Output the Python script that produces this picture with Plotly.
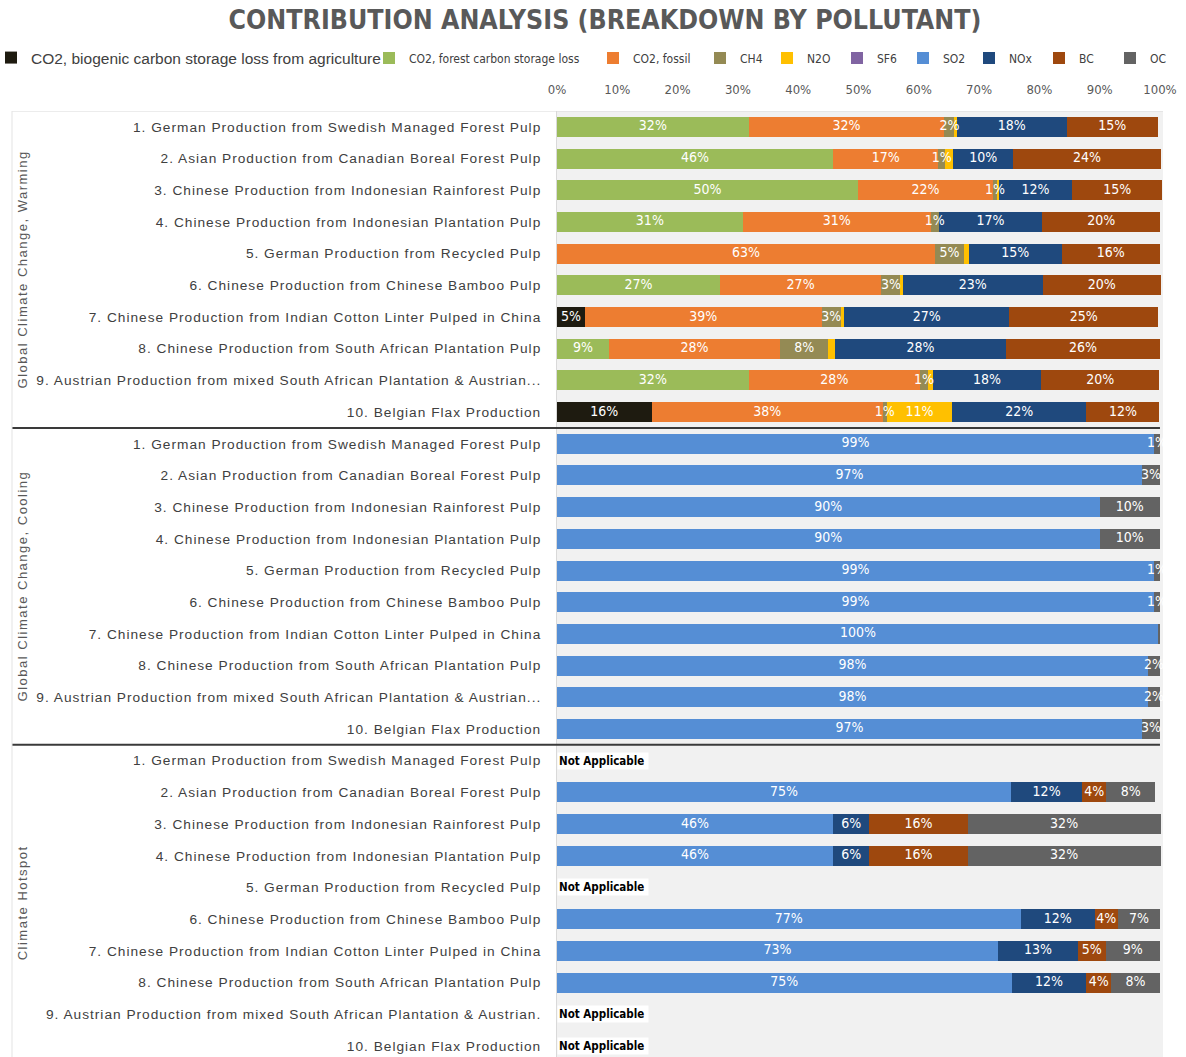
import plotly.graph_objects as go

# ---------------- data ----------------
sections = ["Global Climate Change, Warming", "Global Climate Change, Cooling", "Climate Hotspot"]

products_warming = [
    "1. German Production from Swedish Managed Forest Pulp",
    "2. Asian Production from Canadian Boreal Forest Pulp",
    "3. Chinese Production from Indonesian Rainforest Pulp",
    "4. Chinese Production from Indonesian Plantation Pulp",
    "5. German Production from Recycled Pulp",
    "6. Chinese Production from Chinese Bamboo Pulp",
    "7. Chinese Production from Indian Cotton Linter Pulped in China",
    "8. Chinese Production from South African Plantation Pulp",
    "9. Austrian Production from mixed South African Plantation & Austrian...",
    "10. Belgian Flax Production",
]
products_cooling = list(products_warming)
products_hotspot = products_warming[:8] + [
    "9. Austrian Production from mixed South African Plantation & Austrian.",
    "10. Belgian Flax Production",
]

pollutants = ["CO2, biogenic carbon storage loss from agriculture", "CO2, forest carbon storage loss",
              "CO2, fossil", "CH4", "N2O", "SF6", "SO2", "NOx", "BC", "OC"]

# Warming breakdown (% of total)
warm_co2_bio    = [0, 0, 0, 0, 0, 0, 4.6, 0, 0, 15.7]
warm_co2_forest = [31.8, 45.8, 49.9, 30.8, 0, 27.0, 0, 8.6, 31.8, 0]
warm_co2_fossil = [32.4, 17.4, 22.4, 31.2, 62.7, 26.8, 39.3, 28.4, 28.4, 38.3]
warm_ch4        = [1.8, 1.2, 0.7, 1.3, 4.8, 3.2, 3.2, 8.0, 1.3, 0.7]
warm_n2o        = [0.3, 1.3, 0.3, 0.0, 0.8, 0.3, 0.5, 1.1, 0.8, 10.8]
warm_nox        = [18.2, 10.0, 12.1, 17.2, 15.4, 23.3, 27.4, 28.4, 18.0, 22.3]
warm_bc         = [15.2, 24.4, 15.0, 19.5, 16.3, 19.5, 24.7, 25.5, 19.6, 12.1]

# Cooling breakdown
cool_so2 = [99, 97, 90, 90, 99, 99, 99.8, 98, 98, 97]
cool_oc  = [1, 3, 10, 10, 1, 1, 0.2, 2, 2, 3]

# Climate hotspot breakdown (None = Not Applicable)
hot_so2 = [None, 75.3, 45.8, 45.8, None, 76.9, 73.1, 75.4, None, None]
hot_nox = [None, 11.8, 6.0, 6.0, None, 12.3, 13.3, 12.4, None, None]
hot_bc  = [None, 4.0, 16.3, 16.3, None, 3.8, 4.6, 4.1, None, None]
hot_oc  = [None, 8.1, 32.0, 32.0, None, 7.0, 9.0, 8.1, None, None]

x_ticks = [0, 10, 20, 30, 40, 50, 60, 70, 80, 90, 100]

# ---------------- styling ----------------
colors = {
    "CO2, biogenic carbon storage loss from agriculture": "#1e1b10",
    "CO2, forest carbon storage loss": "#9bbb59",
    "CO2, fossil": "#ed7d31",
    "CH4": "#948a54",
    "N2O": "#ffc000",
    "SF6": "#8064a2",
    "SO2": "#558ed5",
    "NOx": "#1f497d",
    "BC": "#9e480e",
    "OC": "#636363",
}
min_label = {"N2O": 5}
# legend text start positions in pixels (layout only)
legend_text_px = [31, 409, 633, 740, 807, 877, 943, 1009, 1079, 1150]

COND = "DejaVu Sans Condensed, Liberation Sans Narrow, sans-serif"
SANS = "Liberation Sans, Arial, sans-serif"

W, H = 1186, 1057
ML, MR, MT, MB = 557, 23, 111, 0
PW = W - ML - MR
PH = H - MT - MB

n = len(products_warming)
zeros = [0] * n
none10 = [None] * n
series = {
    "CO2, biogenic carbon storage loss from agriculture": warm_co2_bio + zeros + none10,
    "CO2, forest carbon storage loss": warm_co2_forest + zeros + none10,
    "CO2, fossil": warm_co2_fossil + zeros + none10,
    "CH4": warm_ch4 + zeros + none10,
    "N2O": warm_n2o + zeros + none10,
    "SF6": zeros + zeros + none10,
    "SO2": zeros + cool_so2 + hot_so2,
    "NOx": warm_nox + zeros + hot_nox,
    "BC": warm_bc + zeros + hot_bc,
    "OC": zeros + cool_oc + hot_oc,
}
labels_all = products_warming + products_cooling + products_hotspot
rows = list(range(len(labels_all)))


def spaced(s, sp=1):
    return f'<span style="letter-spacing:{sp}px">' + s + '</span>'


fig = go.Figure()
legend_layouts = {}
cum = [0.0] * len(rows)
lab_x, lab_y, lab_t = [], [], []
for k, p in enumerate(pollutants):
    vals = series[p]
    thr = min_label.get(p, 0.5)
    for r, v in enumerate(vals):
        if v is None:
            continue
        if v >= thr:
            lab_x.append(cum[r] + v / 2)
            lab_y.append(r)
            lab_t.append(f"{round(v)}%")
        cum[r] += v
    lg = "legend" if k == 0 else f"legend{k + 1}"
    fig.add_trace(go.Bar(
        x=vals, y=rows, orientation="h", name=p,
        marker=dict(color=colors[p], line=dict(width=0)),
        width=0.63,
        legend=lg,
        hovertemplate="%{x:.1f}%<extra>" + p + "</extra>",
    ))
    legend_layouts[lg] = dict(
        orientation="h",
        x=(legend_text_px[k] - 40 - ML) / PW, xanchor="left",
        y=1 + (MT - 58) / PH, yanchor="middle",
        font=dict(family=SANS if k == 0 else COND, size=15.5 if k == 0 else 12,
                  color="#404040"),
        bgcolor="rgba(0,0,0,0)", itemwidth=30, borderwidth=0,
    )

# data labels drawn on top of all bars
fig.add_trace(go.Scatter(
    x=lab_x, y=lab_y, text=lab_t, mode="text", textposition="middle center",
    textfont=dict(family=COND, size=14, color="white"),
    showlegend=False, hoverinfo="skip", cliponaxis=True,
))

fig.update_layout(
    barmode="stack",
    width=W, height=H,
    margin=dict(l=ML, r=MR, t=MT, b=MB, autoexpand=False),
    paper_bgcolor="white",
    plot_bgcolor="#f1f1f1",
    font=dict(family=SANS, color="#595959"),
    title=dict(
        text="CONTRIBUTION ANALYSIS (BREAKDOWN BY POLLUTANT)",
        x=605 / W, xanchor="center", y=0.981, yanchor="middle",
        font=dict(family=COND, size=26.5, color="#595959", weight="bold"),
    ),
    xaxis=dict(
        range=[0, 100.5], side="top",
        tickvals=x_ticks, ticktext=[f"{v}%" for v in x_ticks],
        tickfont=dict(family=COND, size=13, color="#595959"),
        showgrid=False, zeroline=False, showline=False,
        ticklabelstandoff=13, fixedrange=True, automargin=False,
    ),
    yaxis=dict(
        range=[29.35, -0.5],
        tickvals=rows, ticktext=[spaced(s) for s in labels_all],
        tickfont=dict(family=SANS, size=13.7, color="#404040"),
        showgrid=False, zeroline=False,
        showline=True, linecolor="#d9d9d9", linewidth=1,
        ticks="", ticklabelstandoff=12, fixedrange=True, automargin=False,
    ),
    showlegend=True,
    **legend_layouts,
)

# section titles and separators
x_left = (12 - ML) / PW
for i, sname in enumerate(sections):
    center = i * n + (n - 1) / 2
    fig.add_annotation(
        x=(22 - ML) / PW, xref="paper", y=center, yref="y",
        text=spaced(sname, 1.5),
        textangle=-90, showarrow=False,
        font=dict(family=SANS, size=13, color="#595959"),
        xanchor="center", yanchor="middle",
    )
    if i > 0:
        fig.add_shape(type="line", xref="paper", yref="y",
                      x0=x_left, x1=0.995, y0=i * n - 0.5, y1=i * n - 0.5,
                      line=dict(color="#3a3a3a", width=2))

fig.add_shape(type="line", xref="paper", yref="y", x0=x_left, x1=1.0,
              y0=-0.5, y1=-0.5, line=dict(color="#d9d9d9", width=1))
fig.add_shape(type="line", xref="paper", yref="y", x0=x_left, x1=x_left,
              y0=-0.5, y1=29.35, line=dict(color="#e3e3e3", width=1))

# Not Applicable markers
for r in rows:
    vals = [series[p][r] for p in pollutants]
    if all(v is None for v in vals):
        fig.add_annotation(
            x=0, xref="x", y=r, yref="y", xanchor="left", yanchor="middle",
            text="<b>Not Applicable</b>", showarrow=False,
            bgcolor="white", width=88, height=14, align="left",
            font=dict(family=COND, size=11.5, color="black"),
        )

fig.write_html(
    "out.html",
    config={"displayModeBar": False},
    post_script="document.body.style.margin='0';document.body.style.overflow='hidden';",
)
